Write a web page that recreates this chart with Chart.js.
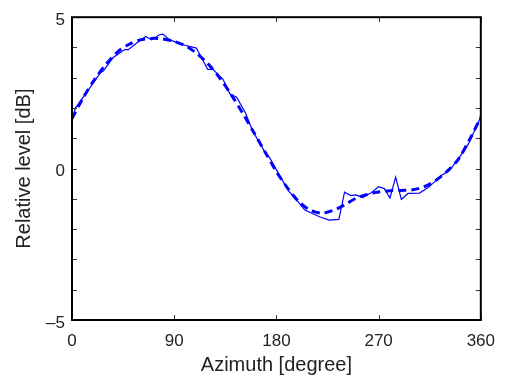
<!DOCTYPE html>
<html>
<head>
<meta charset="utf-8">
<script src="https://cdn.jsdelivr.net/npm/chart.js@4"></script>
<style>
  html, body { margin: 0; padding: 0; background: #ffffff; }
  #wrap { width: 506px; height: 383px; }
</style>
</head>
<body>
<div id="wrap"><canvas id="levelChart" width="506" height="383"></canvas></div>
<script>
// measured (thin solid line)
const measuredAzimuth = [0, 3, 13, 25, 27.5, 36, 46.5, 49.5, 57, 65, 70, 77, 80, 86, 98, 109.5, 119.5, 124, 133, 139, 145, 153, 159, 169.5, 174, 183, 191, 197, 205, 218, 226.5, 235, 240, 245.5, 250, 256, 263, 270, 275, 280, 285, 290, 296, 306, 314, 326, 332, 341, 349.5, 358, 360];
const measuredLevel = [1.62, 2.0, 2.52, 3.17, 3.22, 3.66, 3.93, 3.93, 4.15, 4.36, 4.25, 4.42, 4.44, 4.25, 4.09, 3.98, 3.28, 3.28, 2.95, 2.47, 2.36, 1.82, 1.25, 0.57, 0.36, -0.24, -0.75, -1.0, -1.37, -1.59, -1.70, -1.68, -0.78, -0.89, -0.87, -0.96, -0.81, -0.6, -0.66, -0.97, -0.28, -1.02, -0.82, -0.81, -0.62, -0.2, -0.08, 0.36, 0.84, 1.55, 1.72];

// model (thick dashed line)
const modelAzimuth = [0, 10, 20, 30, 40, 50, 60, 70, 80, 90, 100, 110, 120, 130, 140, 150, 160, 170, 180, 190, 200, 210, 220, 230, 240, 250, 260, 270, 280, 290, 300, 310, 320, 330, 340, 350, 360];
const modelLevel = [1.65, 2.35, 2.95, 3.45, 3.85, 4.1, 4.25, 4.3, 4.28, 4.2, 4.05, 3.8, 3.45, 3.0, 2.45, 1.85, 1.2, 0.55, -0.1, -0.65, -1.1, -1.38, -1.47, -1.38, -1.2, -0.98, -0.85, -0.77, -0.73, -0.72, -0.7, -0.6, -0.4, -0.1, 0.3, 0.95, 1.7];

const xTickStep = 90;
const yLabelValues = [-5, 0, 5];

function toPoints(xs, ys) {
    return xs.map(function(x, i) { return { x: x, y: ys[i] }; });
}

// frame box with inward ticks on all four sides
const frameTicks = {
    id: 'frameTicks',
    afterDraw: function(chart) {
        const ctx = chart.ctx;
        const area = chart.chartArea;
        const xs = chart.scales.x;
        const ys = chart.scales.y;
        const len = 5;
        ctx.save();
        ctx.strokeStyle = '#333333';
        ctx.lineWidth = 1;
        ctx.beginPath();
        xs.ticks.forEach(function(t) {
            const px = Math.round(xs.getPixelForValue(t.value)) + 0.5;
            ctx.moveTo(px, area.bottom); ctx.lineTo(px, area.bottom - len);
            ctx.moveTo(px, area.top); ctx.lineTo(px, area.top + len);
        });
        ys.ticks.forEach(function(t) {
            const py = Math.round(ys.getPixelForValue(t.value)) + 0.5;
            ctx.moveTo(area.left, py); ctx.lineTo(area.left + len, py);
            ctx.moveTo(area.right, py); ctx.lineTo(area.right - len, py);
        });
        ctx.stroke();
        ctx.strokeStyle = '#000000';
        ctx.lineWidth = 2;
        ctx.strokeRect(area.left, area.top, area.right - area.left, area.bottom - area.top);
        ctx.restore();
    }
};

const textColor = '#222222';
const ctx = document.getElementById('levelChart').getContext('2d');
const levelChart = new Chart(ctx, {
    type: 'line',
    data: {
        datasets: [{
            data: toPoints(measuredAzimuth, measuredLevel),
            borderColor: '#0000ff',
            borderWidth: 1.2,
            pointRadius: 0,
            tension: 0,
            fill: false
        }, {
            data: toPoints(modelAzimuth, modelLevel),
            borderColor: '#0000ff',
            borderWidth: 3,
            borderDash: [8, 5],
            pointRadius: 0,
            tension: 0.3,
            fill: false
        }]
    },
    options: {
        responsive: false,
        animation: false,
        layout: { padding: { top: 12, right: 24, left: 0, bottom: 0 } },
        plugins: { legend: { display: false }, tooltip: { enabled: false } },
        scales: {
            x: {
                type: 'linear',
                min: 0,
                max: 360,
                afterFit: function(scale) { scale.height = 63; },
                ticks: {
                    stepSize: xTickStep,
                    color: textColor,
                    padding: 11,
                    font: { family: 'Liberation Sans', size: 17 }
                },
                grid: { drawOnChartArea: false, drawTicks: false },
                border: { display: false },
                title: {
                    display: true,
                    text: 'Azimuth [degree]',
                    color: textColor,
                    padding: { top: 0, bottom: 6 },
                    font: { family: 'Liberation Sans', size: 20 }
                }
            },
            y: {
                type: 'linear',
                min: -5,
                max: 5,
                afterFit: function(scale) { scale.width = 72; },
                ticks: {
                    stepSize: 1,
                    color: textColor,
                    padding: 7,
                    labelOffset: 3,
                    font: { family: 'Liberation Sans', size: 17 },
                    callback: function(v) {
                        if (yLabelValues.indexOf(v) < 0) return '';
                        return v < 0 ? '\u2013' + Math.abs(v) : String(v);
                    }
                },
                grid: { drawOnChartArea: false, drawTicks: false },
                border: { display: false },
                title: {
                    display: true,
                    text: 'Relative level [dB]',
                    color: textColor,
                    padding: { top: 12, bottom: 0 },
                    font: { family: 'Liberation Sans', size: 20 }
                }
            }
        }
    },
    plugins: [frameTicks]
});
</script>
</body>
</html>
